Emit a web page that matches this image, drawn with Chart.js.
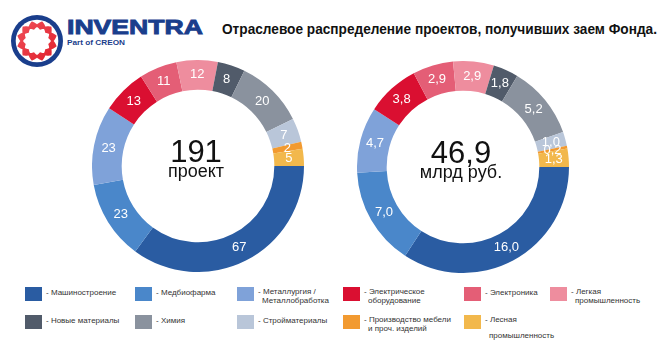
<!DOCTYPE html>
<html><head><meta charset="utf-8">
<script src="https://cdn.jsdelivr.net/npm/chart.js@4"></script>
<style>
html,body{margin:0;padding:0;background:#fff;}
#wrap{position:relative;width:662px;height:341px;overflow:hidden;background:#fff;font-family:"Liberation Sans",Arial,sans-serif;}
canvas.donut{position:absolute;}
#title{position:absolute;left:222px;top:20px;font-family:"Liberation Sans",Arial,sans-serif;font-weight:bold;font-size:15px;line-height:17px;color:#111;white-space:nowrap;transform-origin:0 0;}
#logoText{position:absolute;left:67px;top:15px;font-family:"Liberation Sans",Arial,sans-serif;font-weight:bold;font-size:21px;line-height:24px;color:#1a3e8c;-webkit-text-stroke:0.9px #1a3e8c;white-space:nowrap;transform-origin:0 0;}
#logoSub{position:absolute;left:67px;top:39px;font-family:"Liberation Sans",Arial,sans-serif;font-weight:bold;font-size:7px;line-height:8px;color:#1a3e8c;white-space:nowrap;transform-origin:0 0;}
.sw{position:absolute;width:17px;height:14px;}
.lt{position:absolute;font-size:8px;line-height:9px;color:#333;white-space:nowrap;}
</style></head>
<body>
<div id="wrap">
  <svg id="logo" width="66" height="70" style="position:absolute;left:0;top:0"></svg>
  <div id="logoText">INVENTRA</div>
  <div id="logoSub">Part of CREON</div>
  <div id="title">Отраслевое распределение проектов, получивших заем Фонда.</div>
  <canvas id="c1" class="donut" width="212" height="212" style="left:92px;top:60px;width:212px;height:212px"></canvas>
  <canvas id="c2" class="donut" width="212" height="212" style="left:357px;top:61px;width:212px;height:212px"></canvas>
  <div id="legend"></div>
</div>
<script>
// ---- data ----
const categories = [
  "Машиностроение","Медбиофарма","Металлургия / Металлобработка","Электрическое оборудование",
  "Электроника","Легкая промышленность","Новые материалы","Химия","Стройматериалы",
  "Производство мебели и проч. изделий","Лесная промышленность"
];
const projectCounts = [67, 23, 23, 13, 11, 12, 8, 20, 7, 2, 5];
const loanAmounts = [16.0, 7.0, 4.7, 3.8, 2.9, 2.9, 1.8, 5.2, 1.0, 0.2, 1.3];
const colors = ["#2a5ca2","#4a87ca","#7fa2d9","#da0f31","#e45e76","#ee8d9e","#515b6a","#8a929e","#b9c6d9","#f29a30","#f2b84c"];
const centerLabels1 = ["191", "проект"];
const centerLabels2 = ["46,9", "млрд руб."];
// legend lines (as shown in the picture)
const legendLines = [
  ["- Машиностроение"],["- Медбиофарма"],["- Металлургия /","Металлобработка"],
  ["- Электрическое","оборудование"],["- Электроника"],["- Легкая","промышленность"],
  ["-  Новые материалы"],["- Химия"],["- Стройматериалы"],
  ["-  Производство мебели","и проч. изделий"],["- Лесная","промышленность"]
];

// ---- fit text widths ----
function fitWidth(id, w){
  const el=document.getElementById(id);
  const cw=el.getBoundingClientRect().width;
  el.style.transform='scaleX('+(w/cw)+')';
}
fitWidth('title', 435);
fitWidth('logoText', 136);
fitWidth('logoSub', 58);

// ---- logo ----
(function(){
  const svg = document.getElementById('logo');
  const cx=37, cy=41;
  const n=12;
  function tri(a){ // triangle wave in [-1,1], period 2pi/n
    const t=((a*n/(2*Math.PI))%1+1)%1;
    return 1-4*Math.abs(t-0.5);
  }
  let d='';
  for(let i=0;i<=720;i++){
    const a=i*Math.PI/360;
    const r=18.5+1.8*tri(a);
    d += (i===0?'M':'L')+(cx+r*Math.cos(a)).toFixed(2)+','+(cy+r*Math.sin(a)).toFixed(2);
  }
  d+='Z';
  let d2='';
  for(let i=0;i<=720;i++){
    const a=i*Math.PI/360;
    const r=12.8-1.2*tri(a);
    d2 += (i===0?'M':'L')+(cx+r*Math.cos(a)).toFixed(2)+','+(cy+r*Math.sin(a)).toFixed(2);
  }
  d2+='Z';
  svg.innerHTML =
    '<defs><linearGradient id="rg" x1="0" y1="0" x2="1" y2="1">'+
    '<stop offset="0" stop-color="#f0505a"/><stop offset="1" stop-color="#e0202c"/></linearGradient></defs>'+
    '<circle cx="'+cx+'" cy="'+cy+'" r="26" fill="#1a3e8c"/>'+
    '<circle cx="'+cx+'" cy="'+cy+'" r="21.3" fill="#fff"/>'+
    '<path d="'+d+'" fill="url(#rg)"/>'+
    '<path d="'+d2+'" fill="#fff"/>';
})();

// ---- legend ----
(function(){
  const lg = document.getElementById('legend');
  const colX = [25,135,237,343,464,550];
  const rowY = [287,315];
  categories.forEach((c,i)=>{
    const col = i<6 ? i : i-6;
    const row = i<6 ? 0 : 1;
    const sw = document.createElement('div');
    sw.className='sw';
    sw.style.left=colX[col]+'px'; sw.style.top=rowY[row]+'px';
    sw.style.background=colors[i];
    lg.appendChild(sw);
    const lines = legendLines[i];
    lines.forEach((ln,j)=>{
      const t=document.createElement('div');
      t.className='lt';
      t.textContent=ln;
      let x = colX[col]+21;
      if(j>0) x += 4;
      let y = rowY[row]+ (lines.length===1 ? 1 : 0) + j*(i===10?16:9);
      t.style.left=x+'px'; t.style.top=y+'px';
      lg.appendChild(t);
    });
  });
})();

// ---- plugins ----
const sliceLabels = {
  id:'sliceLabels',
  afterDatasetsDraw(chart, args, opts){
    const ctx=chart.ctx;
    const meta=chart.getDatasetMeta(0);
    const data=chart.data.datasets[0].data;
    ctx.save();
    ctx.fillStyle='#fff';
    ctx.font='13px "Liberation Sans", Arial, sans-serif';
    ctx.textAlign='center'; ctx.textBaseline='middle';
    meta.data.forEach((arc,i)=>{
      const p=arc.tooltipPosition();
      ctx.fillText(opts.format(data[i]), p.x, p.y);
    });
    ctx.restore();
  }
};
const centerText = {
  id:'centerText',
  afterDraw(chart, args, opts){
    const ctx=chart.ctx, a=chart.chartArea;
    const cx=(a.left+a.right)/2, cy=(a.top+a.bottom)/2;
    ctx.save();
    ctx.fillStyle='#111'; ctx.textAlign='center'; ctx.textBaseline='alphabetic';
    ctx.font='31px "Liberation Sans", Arial, sans-serif';
    ctx.fillText(opts.lines[0], cx-2, cy-4);
    ctx.font='18px "Liberation Sans", Arial, sans-serif';
    ctx.fillText(opts.lines[1], cx-2, cy+11);
    ctx.restore();
  }
};

function makeDonut(id, values, lines, fmt){
  return new Chart(document.getElementById(id), {
    type:'doughnut',
    data:{labels:categories, datasets:[{data:values, backgroundColor:colors, borderWidth:0, hoverOffset:0, offset:0}]},
    options:{
      responsive:false, animation:false, events:[],
      rotation:90, cutout:'72%',
      layout:{padding:0},
      plugins:{legend:{display:false}, tooltip:{enabled:false},
        sliceLabels:{format:fmt}, centerText:{lines:lines}}
    },
    plugins:[sliceLabels, centerText]
  });
}
makeDonut('c1', projectCounts, centerLabels1, v=>String(v));
makeDonut('c2', loanAmounts, centerLabels2, v=>v.toFixed(1).replace('.',','));
</script>
</body></html>
